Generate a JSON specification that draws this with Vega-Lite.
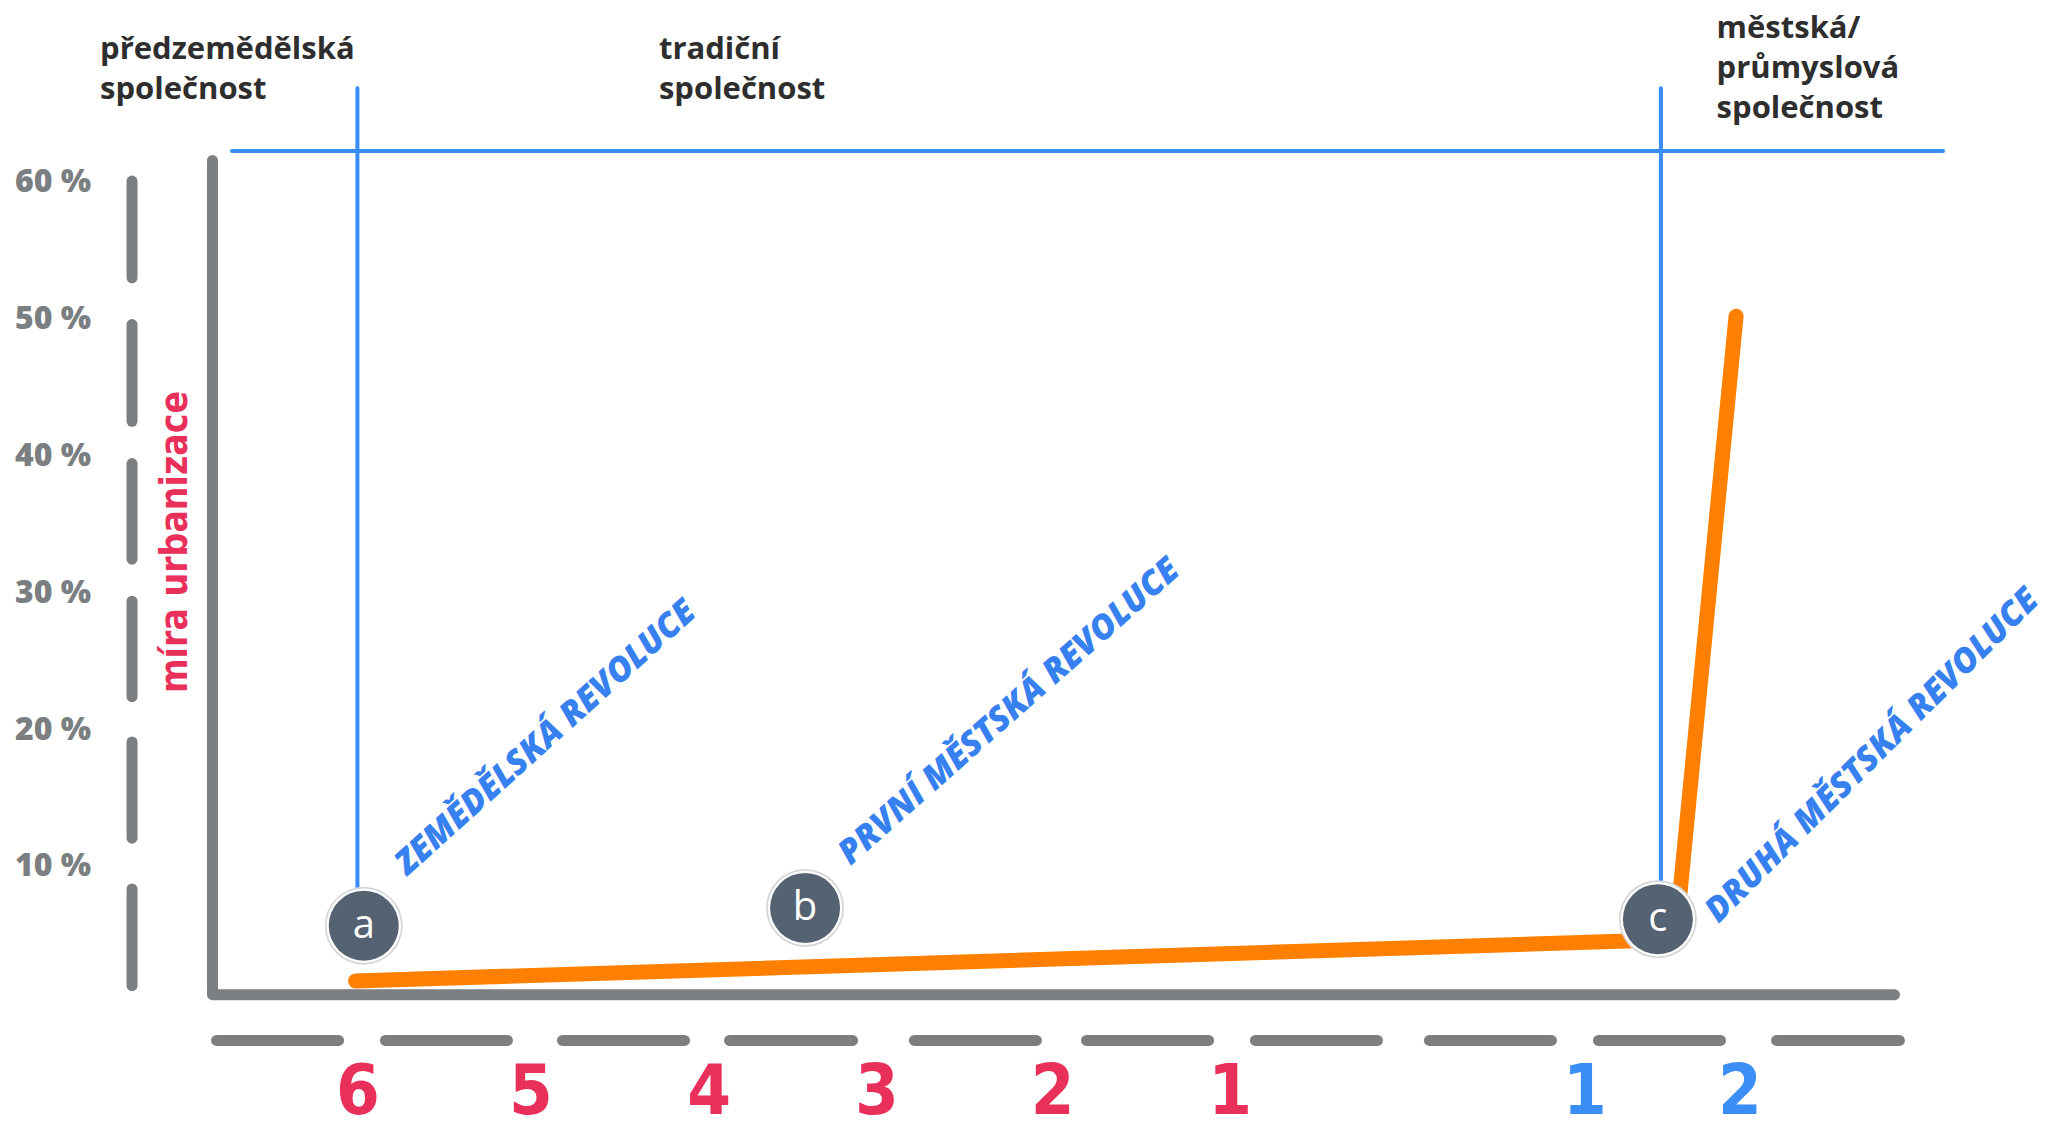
{
  "$schema": "https://vega.github.io/schema/vega-lite/v6.json",
  "width": 2047,
  "height": 1132,
  "autosize": {"type": "none"},
  "padding": 0,
  "background": "white",
  "config": {"view": {"stroke": null}},
  "datasets": {
    "blue": [
      {"x": 11.33, "y": 62.30, "x2": 94.92, "y2": 62.30},
      {"x": 17.46, "y": 66.88, "x2": 17.46, "y2": 5.67},
      {"x": 81.14, "y": 66.88, "x2": 81.14, "y2": 6.15}
    ],
    "frame": [
      {"o": 1, "x": 10.38, "y": 61.61},
      {"o": 2, "x": 10.38, "y": 0.63},
      {"o": 3, "x": 92.55, "y": 0.63}
    ],
    "dashes": [
      {"x": 6.45, "y": 60.10, "x2": 6.45, "y2": 53.03},
      {"x": 6.45, "y": 49.61, "x2": 6.45, "y2": 42.54},
      {"x": 6.45, "y": 39.45, "x2": 6.45, "y2": 32.46},
      {"x": 6.45, "y": 29.39, "x2": 6.45, "y2": 22.41},
      {"x": 6.45, "y": 19.10, "x2": 6.45, "y2": 12.07},
      {"x": 6.45, "y": 8.36, "x2": 6.45, "y2": 1.29},
      {"x": 10.58, "y": -2.72, "x2": 16.54, "y2": -2.72},
      {"x": 18.83, "y": -2.72, "x2": 24.79, "y2": -2.72},
      {"x": 27.48, "y": -2.72, "x2": 33.44, "y2": -2.72},
      {"x": 35.64, "y": -2.72, "x2": 41.65, "y2": -2.72},
      {"x": 44.67, "y": -2.72, "x2": 50.63, "y2": -2.72},
      {"x": 53.08, "y": -2.72, "x2": 59.04, "y2": -2.72},
      {"x": 61.33, "y": -2.72, "x2": 67.29, "y2": -2.72},
      {"x": 69.83, "y": -2.72, "x2": 75.79, "y2": -2.72},
      {"x": 78.09, "y": -2.72, "x2": 84.05, "y2": -2.72},
      {"x": 86.79, "y": -2.72, "x2": 92.79, "y2": -2.72}
    ],
    "urban": [
      {"o": 1, "x": 17.37, "y": 1.63},
      {"o": 2, "x": 81.85, "y": 4.66},
      {"o": 3, "x": 84.81, "y": 50.22}
    ],
    "points": [
      {"x": 17.77, "y": 5.67, "label": "a"},
      {"x": 39.33, "y": 6.97, "label": "b"},
      {"x": 80.99, "y": 6.15, "label": "c"}
    ],
    "yticks": [
      {"x": 4.45, "y": 60, "label": "60 %"},
      {"x": 4.45, "y": 50, "label": "50 %"},
      {"x": 4.45, "y": 40, "label": "40 %"},
      {"x": 4.45, "y": 30, "label": "30 %"},
      {"x": 4.45, "y": 20, "label": "20 %"},
      {"x": 4.45, "y": 10, "label": "10 %"}
    ],
    "eras": [
      {"x": 4.89, "y": 69.0, "label": "předzemědělská\nspolečnost"},
      {"x": 32.19, "y": 69.0, "label": "tradiční\nspolečnost"},
      {"x": 83.86, "y": 70.59, "label": "městská/\nprůmyslová\nspolečnost"}
    ],
    "revolutions": [
      {"x": 19.92, "y": 9.30, "label": "ZEMĚDĚLSKÁ REVOLUCE"},
      {"x": 41.55, "y": 10.04, "label": "PRVNÍ MĚSTSKÁ REVOLUCE"},
      {"x": 83.95, "y": 5.80, "label": "DRUHÁ MĚSTSKÁ REVOLUCE"}
    ],
    "axisname": [
      {"x": 8.60, "y": 33.72, "label": "míra urbanizace"}
    ],
    "stages": [
      {"x": 17.49, "y": -8.09, "label": "6", "kind": "před"},
      {"x": 25.94, "y": -8.09, "label": "5", "kind": "před"},
      {"x": 34.64, "y": -8.09, "label": "4", "kind": "před"},
      {"x": 42.84, "y": -8.09, "label": "3", "kind": "před"},
      {"x": 51.42, "y": -8.09, "label": "2", "kind": "před"},
      {"x": 60.09, "y": -8.09, "label": "1", "kind": "před"},
      {"x": 77.43, "y": -8.09, "label": "1", "kind": "po"},
      {"x": 85.00, "y": -8.09, "label": "2", "kind": "po"}
    ]
  },
  "encoding": {
    "x": {"field": "x", "type": "quantitative", "scale": {"domain": [0, 100], "nice": false, "zero": false}, "axis": null},
    "y": {"field": "y", "type": "quantitative", "scale": {"domain": [-9.41, 73.34], "nice": false, "zero": false}, "axis": null}
  },
  "layer": [
    {
      "data": {"name": "blue"},
      "mark": {"type": "rule", "color": "#3a8cf6", "strokeWidth": 4, "strokeCap": "round"},
      "encoding": {"x2": {"field": "x2"}, "y2": {"field": "y2"}}
    },
    {
      "data": {"name": "frame"},
      "mark": {"type": "line", "color": "#7b7f82", "strokeWidth": 11, "strokeCap": "round", "strokeJoin": "round"},
      "encoding": {"order": {"field": "o", "type": "quantitative"}}
    },
    {
      "data": {"name": "dashes"},
      "mark": {"type": "rule", "color": "#7b7f82", "strokeWidth": 11, "strokeCap": "round"},
      "encoding": {"x2": {"field": "x2"}, "y2": {"field": "y2"}}
    },
    {
      "data": {"name": "urban"},
      "mark": {"type": "line", "color": "#ff8000", "strokeWidth": 15, "strokeCap": "round", "strokeJoin": "round"},
      "encoding": {"order": {"field": "o", "type": "quantitative"}}
    },
    {
      "data": {"name": "points"},
      "mark": {"type": "point", "shape": "circle", "filled": true, "color": "#d4d6d8", "size": 6084, "opacity": 1}
    },
    {
      "data": {"name": "points"},
      "mark": {"type": "point", "shape": "circle", "filled": true, "color": "#ffffff", "size": 5550, "opacity": 1}
    },
    {
      "data": {"name": "points"},
      "mark": {"type": "point", "shape": "circle", "filled": true, "color": "#546271", "size": 4900, "opacity": 1}
    },
    {
      "data": {"name": "points"},
      "mark": {"type": "text", "color": "#ffffff", "font": "Open Sans", "fontSize": 40, "fontWeight": 500, "align": "center", "baseline": "alphabetic", "dy": 12},
      "encoding": {"text": {"field": "label"}}
    },
    {
      "data": {"name": "yticks"},
      "mark": {"type": "text", "color": "#7b7f82", "font": "Open Sans", "fontSize": 32, "fontWeight": 800, "align": "right", "baseline": "middle"},
      "encoding": {"text": {"field": "label"}}
    },
    {
      "data": {"name": "eras"},
      "mark": {"type": "text", "color": "#2e2e2e", "font": "Open Sans", "fontSize": 31, "fontWeight": 700, "align": "left", "baseline": "alphabetic", "lineBreak": "\n", "lineHeight": 40},
      "encoding": {"text": {"field": "label"}}
    },
    {
      "data": {"name": "revolutions"},
      "transform": [{"filter": "datum.label === 'ZEMĚDĚLSKÁ REVOLUCE'"}],
      "mark": {"type": "text", "color": "#3680ef", "font": "Open Sans", "fontSize": 34, "fontWeight": 800, "fontStyle": "italic", "align": "left", "baseline": "alphabetic", "angle": -42},
      "encoding": {"text": {"field": "label"}}
    },
    {
      "data": {"name": "revolutions"},
      "transform": [{"filter": "datum.label === 'PRVNÍ MĚSTSKÁ REVOLUCE'"}],
      "mark": {"type": "text", "color": "#3680ef", "font": "Open Sans", "fontSize": 34, "fontWeight": 800, "fontStyle": "italic", "align": "left", "baseline": "alphabetic", "angle": -41.5},
      "encoding": {"text": {"field": "label"}}
    },
    {
      "data": {"name": "revolutions"},
      "transform": [{"filter": "datum.label === 'DRUHÁ MĚSTSKÁ REVOLUCE'"}],
      "mark": {"type": "text", "color": "#3680ef", "font": "Open Sans", "fontSize": 34, "fontWeight": 800, "fontStyle": "italic", "align": "left", "baseline": "alphabetic", "angle": -45},
      "encoding": {"text": {"field": "label"}}
    },
    {
      "data": {"name": "axisname"},
      "mark": {"type": "text", "color": "#e9305a", "font": "DejaVu Sans Condensed, DejaVu Sans", "fontSize": 37, "fontWeight": 700, "align": "center", "baseline": "middle", "angle": -90},
      "encoding": {"text": {"field": "label"}}
    },
    {
      "data": {"name": "stages"},
      "mark": {"type": "text", "font": "DejaVu Sans Condensed, DejaVu Sans", "fontSize": 70, "fontWeight": 700, "align": "center", "baseline": "alphabetic"},
      "encoding": {
        "text": {"field": "label"},
        "color": {"field": "kind", "type": "nominal", "scale": {"domain": ["před", "po"], "range": ["#e9305a", "#3b8ef5"]}, "legend": null}
      }
    }
  ]
}
